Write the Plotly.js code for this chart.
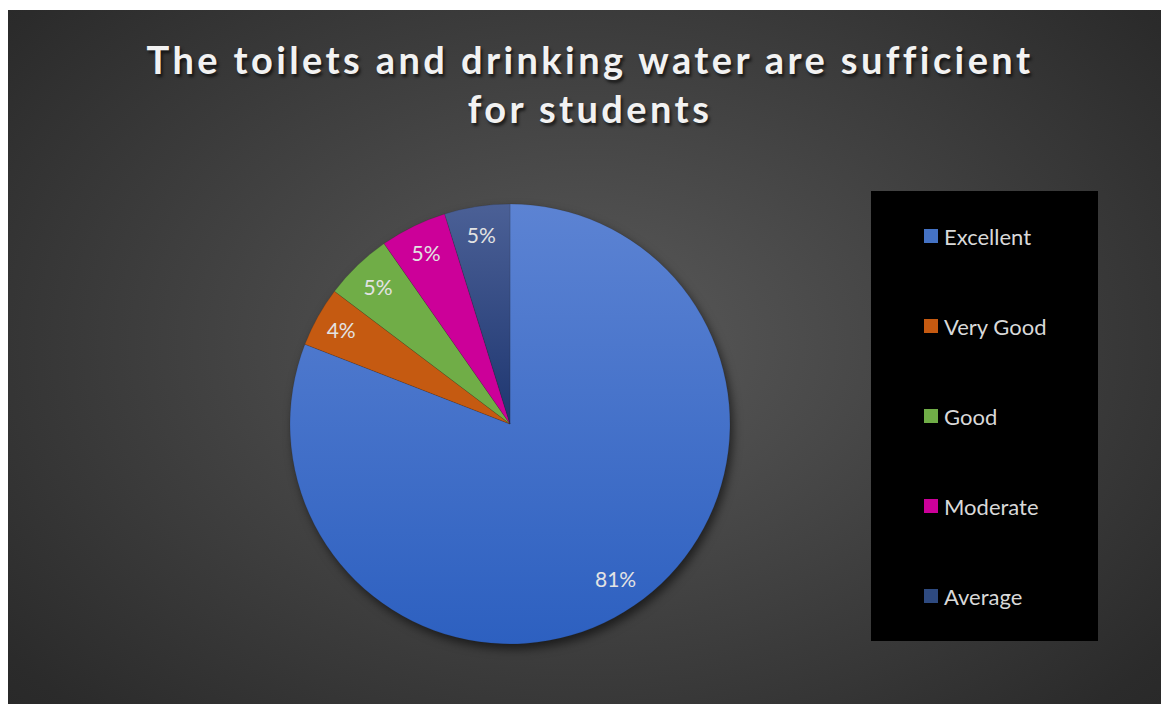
<!DOCTYPE html>
<html>
<head>
<meta charset="utf-8">
<script src="https://cdn.plot.ly/plotly-3.0.1.min.js"></script>
<style>
  html, body { margin: 0; padding: 0; background: #ffffff; }
  #wrap { position: relative; width: 1161px; height: 704px; overflow: hidden; }
  #bg { position: absolute; left: 8px; top: 10px; right: 0; bottom: 0;
        background: radial-gradient(ellipse 75% 85% at 50% 48%, #5a5a5a 0%, #414141 45%, #2b2b2b 85%, #262626 100%); }
  #chart { position: absolute; left: 0; top: 0; width: 1161px; height: 704px; }
  .pielayer .trace:first-child { filter: drop-shadow(3px 5px 5px rgba(0,0,0,0.55)); }
  .gtitle { letter-spacing: 3.4px; }
</style>
</head>
<body>
<div id="wrap"><div id="bg"></div><div id="chart"></div></div>
<script>
const titleText = "The toilets and drinking water are sufficient<br>for students";
const categories = ["Excellent", "Very Good", "Good", "Moderate", "Average"];
const shares = [80.9, 4.4, 5.0, 4.9, 4.8];
const colors = ["#4472C4", "#C55A11", "#70AD47", "#CC0099", "#2E4A80"];
// vertical gradients (top, bottom) for slices that are shaded in the reference
const gradients = { 0: ["#5c83d3", "#2d60c0"], 4: ["#4b6096", "#1e3670"] };

const W = 1161, H = 704;
const px = v => v / W;
const py = v => 1 - v / H;

// legend drawn from the categories / colors arrays
const legendBox = { x0: 871, x1: 1098, y0: 191, y1: 641 };
const legendFirst = 236, legendStep = 90, swatch = 14, swatchX = 924, textX = 942;

const shapes = [{
  type: "rect", xref: "paper", yref: "paper", layer: "below",
  x0: px(legendBox.x0), x1: px(legendBox.x1), y0: py(legendBox.y1), y1: py(legendBox.y0),
  fillcolor: "#000000", line: { width: 0 }
}];
const annotations = [];
categories.forEach((c, i) => {
  const cy = legendFirst + i * legendStep;
  shapes.push({
    type: "rect", xref: "paper", yref: "paper",
    x0: px(swatchX), x1: px(swatchX + swatch), y0: py(cy + swatch / 2), y1: py(cy - swatch / 2),
    fillcolor: colors[i], line: { width: 0 }
  });
  annotations.push({
    xref: "paper", yref: "paper", x: px(textX), y: py(cy), xanchor: "left", yanchor: "middle",
    text: c, showarrow: false, font: { family: "Lato, sans-serif", size: 22, color: "#d9d9d9" }
  });
});

const domain = { x: [px(290), px(730)], y: [py(644), py(204)] };
const pct = "%{percent:.0%}";
const labelFont = { family: "Lato, sans-serif", size: 21, color: "#e3e3e3" };
const clear = categories.map(() => "rgba(0,0,0,0)");
const base = {
  type: "pie", labels: categories, values: shares, sort: false,
  direction: "clockwise", rotation: 0, showlegend: false, domain: domain,
  hoverinfo: "skip"
};

// coloured slices
const tSlices = Object.assign({}, base, {
  marker: { colors: colors, line: { color: "rgba(30,30,30,0.25)", width: 0.6 } },
  textinfo: "none"
});
// labels of the small slices
const tSmall = Object.assign({}, base, {
  marker: { colors: clear, line: { width: 0 } },
  texttemplate: categories.map((c, i) => i === 0 ? "" : pct),
  textposition: "inside", insidetextorientation: "horizontal", textfont: labelFont
});
// label of the large slice, placed in an outer ring like the reference
const tLarge = Object.assign({}, base, {
  hole: 0.7,
  marker: { colors: clear, line: { width: 0 } },
  texttemplate: categories.map((c, i) => i === 0 ? pct : ""),
  textposition: "inside", insidetextorientation: "horizontal", textfont: labelFont
});

const layout = {
  width: W, height: H,
  margin: { l: 0, r: 0, t: 0, b: 0 },
  paper_bgcolor: "rgba(0,0,0,0)",
  plot_bgcolor: "rgba(0,0,0,0)",
  showlegend: false,
  title: {
    text: titleText,
    x: px(590), xanchor: "center",
    y: py(74), yanchor: "middle", yref: "paper",
    font: { family: "Lato, sans-serif", size: 38, weight: 700, color: "#f2f2f2",
            shadow: "2px 3px 3px rgba(0,0,0,0.6)" }
  },
  shapes: shapes,
  annotations: annotations
};

Plotly.newPlot("chart", [tSlices, tSmall, tLarge], layout, { displayModeBar: false, staticPlot: true })
  .then(gd => {
    const svg = gd.querySelector(".main-svg");
    const ns = "http://www.w3.org/2000/svg";
    let defs = svg.querySelector("defs");
    if (!defs) { defs = document.createElementNS(ns, "defs"); svg.insertBefore(defs, svg.firstChild); }
    const paths = gd.querySelectorAll(".pielayer .trace:first-child .slice path.surface");
    Object.keys(gradients).forEach(k => {
      const id = "sliceGrad" + k;
      const g = document.createElementNS(ns, "linearGradient");
      g.setAttribute("id", id);
      g.setAttribute("x1", "0"); g.setAttribute("y1", "0");
      g.setAttribute("x2", "0"); g.setAttribute("y2", "1");
      gradients[k].forEach((col, j) => {
        const s = document.createElementNS(ns, "stop");
        s.setAttribute("offset", j === 0 ? "0" : "1");
        s.setAttribute("stop-color", col);
        g.appendChild(s);
      });
      defs.appendChild(g);
      if (paths[k]) paths[k].style.fill = "url(#" + id + ")";
    });
  });
</script>
</body>
</html>
